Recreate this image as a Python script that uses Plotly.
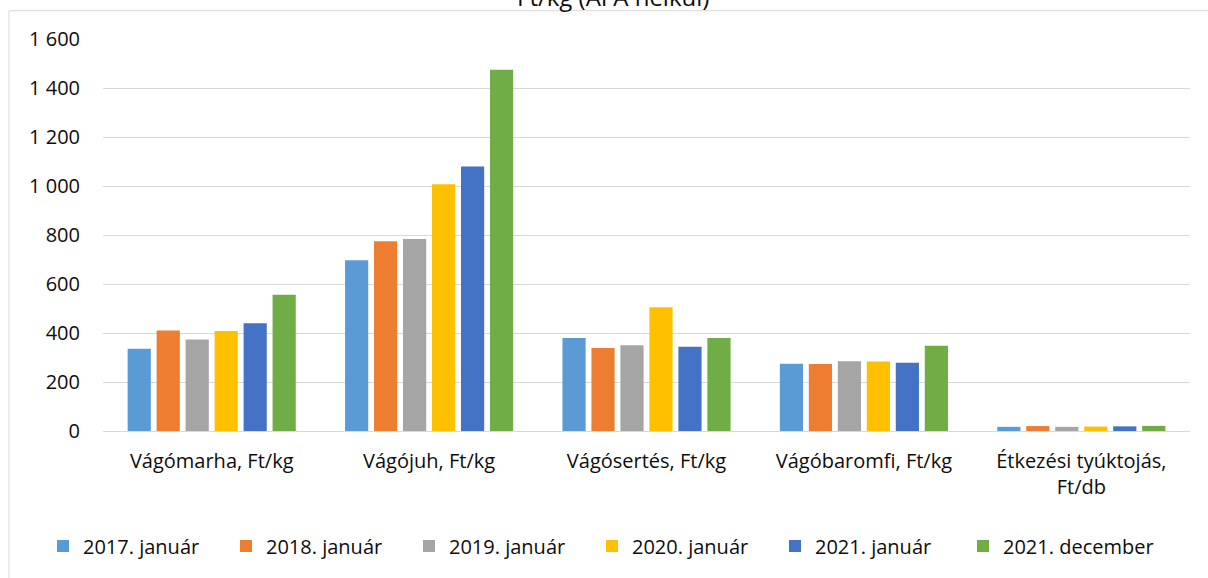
import plotly.graph_objects as go

categories = ["Vágómarha, Ft/kg", "Vágójuh, Ft/kg", "Vágósertés, Ft/kg",
              "Vágóbaromfi, Ft/kg", "Étkezési tyúktojás,<br>Ft/db"]
series_names = ["2017. január", "2018. január", "2019. január",
                "2020. január", "2021. január", "2021. december"]
values_2017_jan = [336, 697, 380, 274, 17]
values_2018_jan = [410, 774, 339, 273, 20]
values_2019_jan = [373, 784, 350, 285, 17]
values_2020_jan = [408, 1007, 505, 284, 18]
values_2021_jan = [440, 1080, 344, 279, 19]
values_2021_dec = [556, 1474, 380, 348, 21]
series_values = [values_2017_jan, values_2018_jan, values_2019_jan,
                 values_2020_jan, values_2021_jan, values_2021_dec]
colors = ["#5B9BD5", "#ED7D31", "#A5A5A5", "#FFC000", "#4472C4", "#70AD47"]
title_text = "Ft/kg (ÁFA nélkül)"

W, H = 1208, 578
L, R, T, B = 103, 18, 39, 144
PW, PH = W - L - R, H - T - B

def px_x(x):
    return (x - L) / PW

def px_y(y):
    return (H - B - y) / PH

FONT = "Open Sans"
TXT = "#0d0d0d"

fig = go.Figure()
for i, (name, vals, col) in enumerate(zip(series_names, series_values, colors)):
    fig.add_trace(go.Bar(name=name, x=categories, y=vals, marker_color=col,
                         marker_line_width=0,
                         legend="legend2" if i == len(series_names) - 1 else "legend"))

legend_common = dict(orientation="h", yanchor="middle", xanchor="left",
                     y=px_y(550), entrywidth=138, entrywidthmode="pixels",
                     font=dict(family=FONT, size=20, color=TXT),
                     bgcolor="rgba(0,0,0,0)", traceorder="normal")

fig.update_layout(
    width=W, height=H,
    margin=dict(l=L, r=R, t=T, b=B, pad=0),
    paper_bgcolor="white", plot_bgcolor="white",
    separators=", ",
    barmode="group", bargap=0.2, bargroupgap=0.2,
    font=dict(family=FONT, size=20, color=TXT),
    showlegend=True,
    legend=dict(x=px_x(43), **legend_common),
    legend2=dict(x=px_x(43 + 5 * 184), **{**legend_common, "entrywidth": 180}),
    xaxis=dict(showline=True, linecolor="#d9d9d9", linewidth=1,
               ticks="", showgrid=False, tickfont=dict(size=20, color=TXT),
               ticklabelstandoff=12),
    yaxis=dict(range=[0, 1600], dtick=200, tick0=0, tickformat=",d",
               showgrid=True, gridcolor="#d9d9d9", gridwidth=1,
               zeroline=True, zerolinecolor="#d9d9d9", zerolinewidth=1,
               showline=False, ticks="", tickfont=dict(size=20, color=TXT),
               ticklabelstandoff=22),
    annotations=[dict(text=title_text, xref="paper", yref="paper",
                      x=px_x(613), y=px_y(-4), xanchor="center", yanchor="middle",
                      showarrow=False, font=dict(family=FONT, size=24, color=TXT))],
    shapes=[
        dict(type="line", xref="paper", yref="paper",
             x0=px_x(9), x1=px_x(1215), y0=px_y(10.5), y1=px_y(10.5),
             line=dict(color="#d9d9d9", width=1)),
        dict(type="line", xref="paper", yref="paper",
             x0=px_x(9), x1=px_x(9), y0=px_y(10.5), y1=px_y(590),
             line=dict(color="#d9d9d9", width=1)),
    ],
)

fig.write_html("out.html", config={"displayModeBar": False},
               post_script="document.body.style.margin='0px';document.body.style.overflow='hidden';")
